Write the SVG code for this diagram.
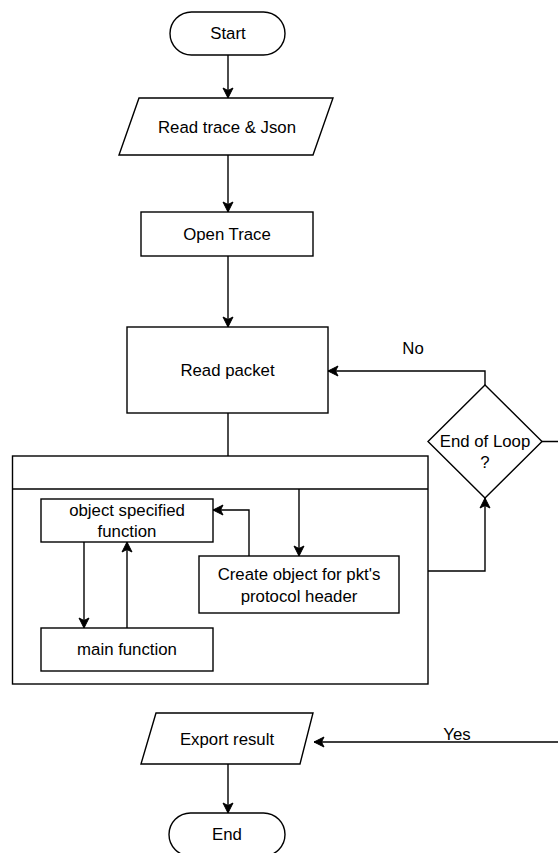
<svg xmlns="http://www.w3.org/2000/svg" width="558" height="853" viewBox="0 0 558 853">
  <style>
    .shape { fill: #ffffff; stroke: #000000; stroke-width: 1.4; }
    .edge { fill: none; stroke: #000000; stroke-width: 1.4; }
    .lbl { font-family: "Liberation Sans", Arial, Helvetica, sans-serif; font-size: 16.8px; fill: #000000; text-anchor: middle; dominant-baseline: central; }
  </style>
  <defs>
    <marker id="arrow" viewBox="0 0 12 12" refX="11" refY="6" markerWidth="12" markerHeight="12" markerUnits="userSpaceOnUse" orient="auto">
      <path d="M1,1 L11,6 L1,11 L3.5,6 Z" fill="#000000" stroke="#000000" stroke-width="1"/>
    </marker>
  </defs>
  <rect width="558" height="853" fill="#ffffff"/>

  <g id="start">
    <rect class="shape" x="170" y="12" width="115" height="43" rx="21.5" ry="21.5"/>
    <text class="lbl" x="228" y="33.5">Start</text>
  </g>

  <g id="read-trace">
    <polygon class="shape" points="139,98 333,98 313,155 119,155"/>
    <text class="lbl" x="227" y="127">Read trace &amp; Json</text>
  </g>

  <g id="open-trace">
    <rect class="shape" x="141" y="212" width="172" height="44"/>
    <text class="lbl" x="227" y="234">Open Trace</text>
  </g>

  <g id="read-packet">
    <rect class="shape" x="127" y="327" width="201" height="86"/>
    <text class="lbl" x="227.5" y="370">Read packet</text>
  </g>

  <!-- container with an empty header band; inner steps sit on top of it -->
  <g id="packet-container">
    <rect class="shape" x="12.5" y="456" width="415.5" height="228"/>
    <line class="edge" x1="12.5" y1="489" x2="428" y2="489"/>
  </g>

  <g id="object-specified-function">
    <rect class="shape" x="41" y="499" width="172" height="43"/>
    <text class="lbl" x="127" y="510">object specified</text>
    <text class="lbl" x="127" y="531">function</text>
  </g>

  <g id="main-function">
    <rect class="shape" x="41" y="628" width="172" height="43"/>
    <text class="lbl" x="127" y="649.5">main function</text>
  </g>

  <g id="create-object">
    <rect class="shape" x="199" y="556" width="200" height="57"/>
    <text class="lbl" x="299" y="574">Create object for pkt's</text>
    <text class="lbl" x="299" y="596">protocol header</text>
  </g>

  <g id="end-of-loop">
    <polygon class="shape" points="485,385 542,441.5 485,498 428,441.5"/>
    <text class="lbl" x="485" y="441">End of Loop</text>
    <text class="lbl" x="485" y="462">?</text>
  </g>

  <g id="export-result">
    <polygon class="shape" points="156,713 313,713 300,764 141,764"/>
    <text class="lbl" x="227" y="739">Export result</text>
  </g>

  <g id="end">
    <rect class="shape" x="169" y="813" width="116" height="43" rx="21.5" ry="21.5"/>
    <text class="lbl" x="227" y="834.5">End</text>
  </g>

  <!-- connectors drawn last so they stay visible over the container -->
  <g id="connectors">
    <path class="edge" d="M228,55 L228,98" marker-end="url(#arrow)"/>
    <path class="edge" d="M228,155 L228,212" marker-end="url(#arrow)"/>
    <path class="edge" d="M228,256 L228,327" marker-end="url(#arrow)"/>
    <path class="edge" d="M228,413 L228,456"/>
    <path class="edge" d="M299,489 L299,556" marker-end="url(#arrow)"/>
    <path class="edge" d="M249,556 L249,510 L213,510" marker-end="url(#arrow)"/>
    <path class="edge" d="M84,542 L84,628" marker-end="url(#arrow)"/>
    <path class="edge" d="M127,628 L127,542" marker-end="url(#arrow)"/>
    <path class="edge" d="M428,571 L485,571 L485,498" marker-end="url(#arrow)"/>
    <path class="edge" d="M485,385 L485,371 L328,371" marker-end="url(#arrow)"/>
    <path class="edge" d="M542,441.5 L562,441.5 L562,742 L314,742" marker-end="url(#arrow)"/>
    <path class="edge" d="M228,764 L228,813" marker-end="url(#arrow)"/>
    <text class="lbl" x="413" y="348">No</text>
    <text class="lbl" x="457" y="734">Yes</text>
  </g>
</svg>
